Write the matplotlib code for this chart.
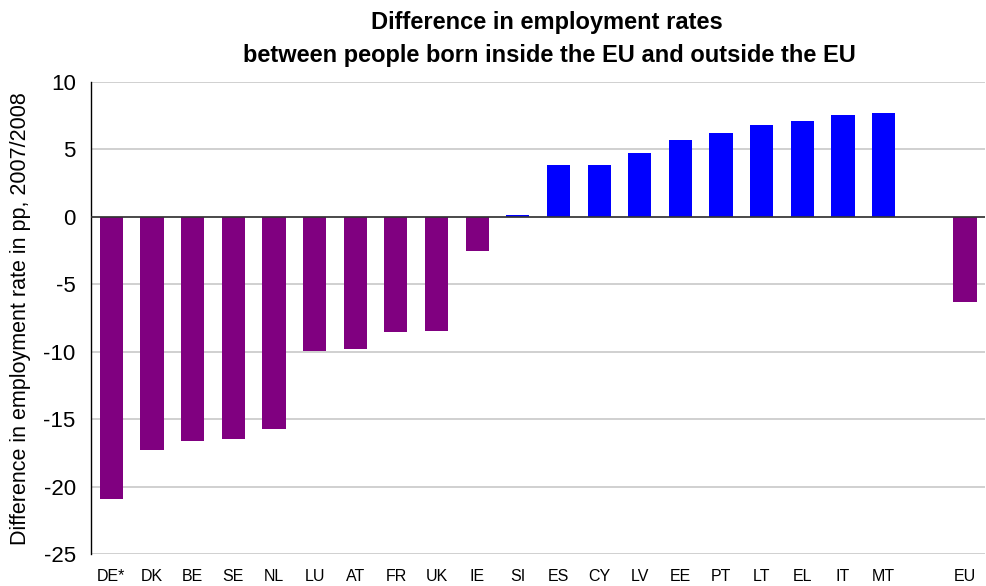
import matplotlib
matplotlib.use("Agg")
import matplotlib.pyplot as plt
from matplotlib import font_manager

categories = ["DE*", "DK", "BE", "SE", "NL", "LU", "AT", "FR", "UK", "IE",
              "SI", "ES", "CY", "LV", "EE", "PT", "LT", "EL", "IT", "MT", "", "EU"]
values = [-20.9, -17.3, -16.65, -16.5, -15.75, -9.95, -9.8, -8.55, -8.5, -2.55,
          0.15, 3.8, 3.8, 4.75, 5.7, 6.2, 6.8, 7.05, 7.5, 7.7, None, -6.3]
colors = ["#800080"] * 10 + ["#0000FF"] * 10 + ["none", "#800080"]

plt.rcParams['font.family'] = ['Liberation Sans', 'DejaVu Sans']

names = {f.name for f in font_manager.fontManager.ttflist}
xfont = 'Liberation Sans Narrow' if 'Liberation Sans Narrow' in names else 'Liberation Sans'

fig = plt.figure(figsize=(9.86, 5.86), dpi=100)
ax = fig.add_axes([0.0923, 0.0546, 0.907, 0.806])

xs = list(range(len(categories)))
for x, v, c in zip(xs, values, colors):
    if v is not None:
        ax.bar(x, v, width=0.57, color=c, zorder=3)

ax.set_xlim(-0.5, len(categories) - 0.5)
ax.set_ylim(-25, 10)
ax.set_yticks([-25, -20, -15, -10, -5, 0, 5, 10])
ax.set_yticklabels(["-25", "-20", "-15", "-10", "-5", "0", "5", "10"], fontsize=16)
ax.yaxis.grid(True, color="#c8c8c8", linewidth=1.2, zorder=0)
ax.axhline(0, color="#333333", linewidth=1.2, zorder=4)
ax.tick_params(axis="y", length=0, pad=11)
ax.set_xticks(xs)
ax.set_xticklabels(categories, fontsize=13.5 if xfont != 'Liberation Sans' else 11.5,
                   family=xfont)
ax.tick_params(axis="x", length=0, pad=11)

for s in ["top", "right", "bottom"]:
    ax.spines[s].set_visible(False)
ax.spines["left"].set_color("black")
ax.spines["left"].set_linewidth(1.0)

fig.text(0.021, 0.457, "Difference in employment rate in pp, 2007/2008",
         rotation=90, va="center", ha="center", fontsize=15.5)
fig.text(0.555, 0.962, "Difference in employment rates", ha="center", va="center",
         fontsize=17, fontweight="bold")
fig.text(0.557, 0.906, "between people born inside the EU and outside the EU",
         ha="center", va="center", fontsize=17, fontweight="bold")

fig.savefig("out.png", dpi=100)
